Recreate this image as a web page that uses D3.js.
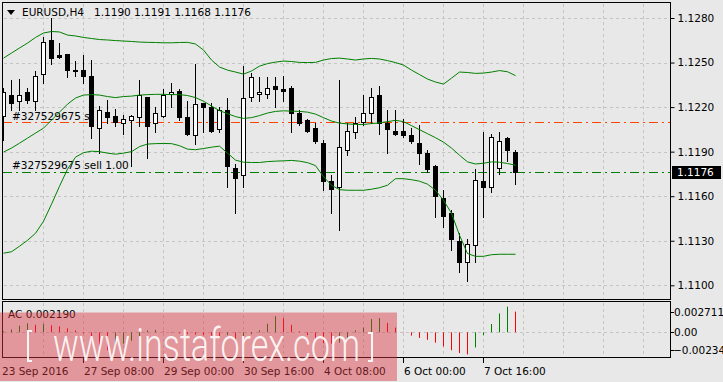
<!DOCTYPE html>
<html lang="en">
<head>
<meta charset="UTF-8">
<title>EURUSD,H4</title>
<script src="https://d3js.org/d3.v7.min.js"></script>
<style>
  body { margin: 0; background: #e8e8e8; }
  svg { display: block; font-family: "DejaVu Sans", Tahoma, sans-serif; }
  .lbl { font-size: 10.5px; fill: #000; }
  .grid { stroke: #c4c4c4; stroke-dasharray: 3,3; shape-rendering: crispEdges; }
</style>
</head>
<body>
<script>
// H4 candles, oldest first (23 Sep 2016 .. 10 Oct 2016)
const opens = [1.1214, 1.1228, 1.1224, 1.1230, 1.1224, 1.1242, 1.1265, 1.1255, 1.1256, 1.1245,
  1.1245, 1.1241, 1.1206, 1.1217, 1.1214, 1.1209, 1.1211, 1.1213, 1.1227, 1.1209,
  1.1214, 1.1229, 1.1231, 1.1213, 1.1201, 1.1223, 1.1220, 1.1205, 1.1218, 1.1179,
  1.1174, 1.1227, 1.1229, 1.1229, 1.1234, 1.1232, 1.1233, 1.1216, 1.1211, 1.1206,
  1.1196, 1.1170, 1.1166, 1.1191, 1.1203, 1.1210, 1.1216, 1.1228, 1.1209, 1.1204,
  1.1204, 1.1201, 1.1196, 1.1189, 1.1180, 1.1159, 1.1149, 1.1130, 1.1116, 1.1127,
  1.1170, 1.1166, 1.1179, 1.1199, 1.1190];
const highs = [1.1233, 1.1238, 1.1239, 1.1233, 1.1244, 1.1267, 1.1280, 1.1263, 1.1256, 1.1251,
  1.1255, 1.1252, 1.1221, 1.1225, 1.1219, 1.1215, 1.1215, 1.1238, 1.1227, 1.1220,
  1.1232, 1.1236, 1.1232, 1.1224, 1.1249, 1.1223, 1.1223, 1.1220, 1.1226, 1.1182,
  1.1248, 1.1243, 1.1240, 1.1240, 1.1240, 1.1241, 1.1234, 1.1218, 1.1212, 1.1209,
  1.1198, 1.1174, 1.1238, 1.1209, 1.1213, 1.1228, 1.1233, 1.1234, 1.1218, 1.1218,
  1.1212, 1.1206, 1.1208, 1.1191, 1.1181, 1.1164, 1.1151, 1.1135, 1.1131, 1.1178,
  1.1203, 1.1202, 1.1203, 1.1200, 1.1191];
const lows = [1.1198, 1.1218, 1.1218, 1.1223, 1.1218, 1.1236, 1.1249, 1.1253, 1.1240, 1.1241,
  1.1236, 1.1199, 1.1189, 1.1209, 1.1207, 1.1202, 1.1180, 1.1207, 1.1186, 1.1203,
  1.1213, 1.1220, 1.1211, 1.1201, 1.1195, 1.1203, 1.1203, 1.1203, 1.1166, 1.1149,
  1.1166, 1.1224, 1.1224, 1.1226, 1.1220, 1.1224, 1.1203, 1.1208, 1.1203, 1.1196,
  1.1164, 1.1149, 1.1137, 1.1188, 1.1199, 1.1208, 1.1209, 1.1202, 1.1189, 1.1201,
  1.1200, 1.1196, 1.1182, 1.1176, 1.1146, 1.1139, 1.1124, 1.1109, 1.1103, 1.1116,
  1.1146, 1.1163, 1.1175, 1.1184, 1.1168];
const closes = [1.1230, 1.1223, 1.1228, 1.1225, 1.1241, 1.1264, 1.1253, 1.1254, 1.1245, 1.1244,
  1.1241, 1.1207, 1.1218, 1.1213, 1.1210, 1.1212, 1.1214, 1.1228, 1.1207, 1.1216,
  1.1228, 1.1230, 1.1213, 1.1202, 1.1222, 1.1220, 1.1204, 1.1218, 1.1180, 1.1172,
  1.1226, 1.1240, 1.1230, 1.1233, 1.1232, 1.1231, 1.1216, 1.1209, 1.1204, 1.1197,
  1.1170, 1.1165, 1.1193, 1.1204, 1.1209, 1.1216, 1.1227, 1.1209, 1.1205, 1.1202,
  1.1201, 1.1197, 1.1189, 1.1178, 1.1160, 1.1147, 1.1131, 1.1116, 1.1128, 1.1171,
  1.1166, 1.1200, 1.1197, 1.1191, 1.1176];

// Bollinger bands as shown on the chart
const bbUpper = [1.12530, 1.12564, 1.12598, 1.12631, 1.12669, 1.12699, 1.12709, 1.12706, 1.12685, 1.12679,
  1.12669, 1.12662, 1.12655, 1.12652, 1.12648, 1.12645, 1.12642, 1.12638, 1.12636, 1.12635,
  1.12633, 1.12633, 1.12635, 1.12636, 1.12625, 1.12584, 1.12517, 1.12470, 1.12449, 1.12436,
  1.12422, 1.12443, 1.12476, 1.12493, 1.12503, 1.12510, 1.12507, 1.12501, 1.12500, 1.12501,
  1.12517, 1.12527, 1.12530, 1.12524, 1.12517, 1.12524, 1.12528, 1.12524, 1.12513, 1.12500,
  1.12483, 1.12449, 1.12419, 1.12389, 1.12369, 1.12355, 1.12395, 1.12436, 1.12433, 1.12427,
  1.12429, 1.12436, 1.12446, 1.12438, 1.12412];
const bbMiddle = [1.11897, 1.11924, 1.11957, 1.11991, 1.12025, 1.12058, 1.12112, 1.12166, 1.12220, 1.12261,
  1.12281, 1.12284, 1.12281, 1.12271, 1.12264, 1.12271, 1.12274, 1.12281, 1.12284, 1.12286,
  1.12286, 1.12284, 1.12284, 1.12278, 1.12264, 1.12240, 1.12207, 1.12176, 1.12156, 1.12136,
  1.12124, 1.12129, 1.12143, 1.12160, 1.12171, 1.12175, 1.12173, 1.12171, 1.12166, 1.12153,
  1.12129, 1.12106, 1.12092, 1.12087, 1.12083, 1.12083, 1.12089, 1.12094, 1.12102, 1.12111,
  1.12102, 1.12075, 1.12048, 1.12021, 1.11994, 1.11964, 1.11924, 1.11876, 1.11831, 1.11817,
  1.11822, 1.11831, 1.11829, 1.11820, 1.11809];
const bbLower = [1.11216, 1.11226, 1.11263, 1.11303, 1.11350, 1.11431, 1.11546, 1.11667, 1.11782, 1.11863,
  1.11893, 1.11903, 1.11900, 1.11890, 1.11883, 1.11890, 1.11900, 1.11934, 1.11951, 1.11954,
  1.11955, 1.11954, 1.11940, 1.11917, 1.11913, 1.11921, 1.11930, 1.11937, 1.11890, 1.11843,
  1.11829, 1.11827, 1.11827, 1.11833, 1.11836, 1.11838, 1.11841, 1.11836, 1.11826, 1.11806,
  1.11731, 1.11674, 1.11644, 1.11640, 1.11640, 1.11640, 1.11647, 1.11657, 1.11674, 1.11718,
  1.11718, 1.11711, 1.11701, 1.11681, 1.11640, 1.11573, 1.11485, 1.11337, 1.11214, 1.11195,
  1.11195, 1.11206, 1.11209, 1.11209, 1.11209];

// Accelerator oscillator
const acValues = [0.0001, 0.0003, 0.0007, 0.00095, 0.0008, 0.0009, 0.00075, 0.00063, 0.00042, 0.0002,
  -0.0001, -0.001, -0.0014, -0.0019, -0.0015, -0.0012, -0.0009, -0.0005, 0.0002, 0.00025,
  0.0001, -0.00005, -0.00012, -0.0002, -0.00025, -0.0003, -0.00035, -0.0004, -0.0003, -0.001,
  -0.0005, -0.0002, 0.0002, 0.0009, 0.0017, 0.0015, 0.0008, 0.0001, -0.0003, -0.0008,
  -0.00115, -0.0012, -0.0011, -0.0008, 0.0002, 0.0005, 0.0014, 0.0015, 0.001, 0.0005,
  0.00005, -0.00035, -0.0006, -0.0008, -0.0011, -0.0015, -0.0019, -0.0022, -0.00234, -0.0016,
  -0.0003, 0.00088, 0.002, 0.002711, 0.00219];

const timeLabels = ["23 Sep 2016", "27 Sep 08:00", "29 Sep 00:00", "30 Sep 16:00", "4 Oct 08:00", "6 Oct 00:00", "7 Oct 16:00"];
const timeLabelBars = [0, 10, 20, 30, 40, 50, 60];
const priceTicks = [1.1100, 1.1130, 1.1160, 1.1190, 1.1220, 1.1250, 1.1280];
const orderId = "#327529675";
const orderOpen = 1.1176;
const orderStop = 1.1210;

const W = 723, H = 382;
const L = 3, R = 670;
const mainTop = 3, mainBot = 300;
const acTop = 302, acBot = 358;

const svg = d3.select("body").append("svg")
  .attr("width", W).attr("height", H);

svg.append("rect").attr("width", W).attr("height", H).attr("fill", "#e8e8e8");

const x = d3.scaleLinear().domain([0, 64]).range([3, 515]);
const y = d3.scaleLinear().domain([1.1100, 1.1280]).range([285.3, 18]);
const acY = d3.scaleLinear().domain([d3.min(acValues), d3.max(acValues)]).range([354.4, 306.7]);

const px = v => Math.round(v) + 0.5;

svg.append("clipPath").attr("id", "mainClip")
  .append("rect").attr("x", L).attr("y", mainTop).attr("width", R - L).attr("height", mainBot - mainTop);
svg.append("clipPath").attr("id", "acClip")
  .append("rect").attr("x", L).attr("y", acTop).attr("width", R - L).attr("height", acBot - acTop);

// grid
const gridBars = d3.range(5, 85, 5);
const grid = svg.append("g");
grid.selectAll(".vm").data(gridBars).join("line").attr("class", "grid")
  .attr("x1", d => px(x(d))).attr("x2", d => px(x(d)))
  .attr("y1", mainTop + 1).attr("y2", mainBot);
grid.selectAll(".va").data(gridBars).join("line").attr("class", "grid")
  .attr("x1", d => px(x(d))).attr("x2", d => px(x(d)))
  .attr("y1", acTop + 1).attr("y2", acBot);
grid.selectAll(".h").data(priceTicks).join("line").attr("class", "grid")
  .attr("x1", L + 1).attr("x2", R)
  .attr("y1", d => px(y(d))).attr("y2", d => px(y(d)));
grid.append("line").attr("class", "grid")
  .attr("x1", L + 1).attr("x2", R)
  .attr("y1", px(acY(0))).attr("y2", px(acY(0)));

// order lines
const main = svg.append("g").attr("clip-path", "url(#mainClip)");
main.append("line")
  .attr("x1", L).attr("x2", R).attr("y1", px(y(orderStop))).attr("y2", px(y(orderStop)))
  .attr("stroke", "#ff4500").attr("stroke-dasharray", "9,4,2,4");
main.append("line")
  .attr("x1", L).attr("x2", R).attr("y1", px(y(orderOpen))).attr("y2", px(y(orderOpen)))
  .attr("stroke", "#008000").attr("stroke-dasharray", "9,4,2,4");
main.append("text").attr("class", "lbl")
  .attr("x", 12).attr("y", y(orderStop) - 2).text(orderId + " sl");
main.append("text").attr("class", "lbl")
  .attr("x", 12).attr("y", y(orderOpen) - 3).text(orderId + " sell 1.00");

// candles
const bars = d3.range(opens.length).map(i => ({
  i, o: opens[i], h: highs[i], l: lows[i], c: closes[i]
}));
const candle = main.append("g").selectAll("g").data(bars).join("g");
candle.append("line")
  .attr("x1", d => x(d.i) + 0.5).attr("x2", d => x(d.i) + 0.5)
  .attr("y1", d => Math.round(y(d.h))).attr("y2", d => Math.round(y(d.l)) + 1)
  .attr("stroke", "#000");
candle.append("rect")
  .attr("x", d => x(d.i) - 1.5)
  .attr("y", d => Math.round(y(Math.max(d.o, d.c))) + 0.5)
  .attr("width", 4)
  .attr("height", d => Math.max(0, Math.round(y(Math.min(d.o, d.c))) - Math.round(y(Math.max(d.o, d.c)))))
  .attr("fill", d => d.c > d.o ? "#fff" : "#000")
  .attr("stroke", "#000");

// bollinger bands
const band = d3.line().x((d, i) => x(i) + 0.5).y(d => y(d));
[bbUpper, bbMiddle, bbLower].forEach(b => {
  main.append("path").attr("d", band(b))
    .attr("fill", "none").attr("stroke", "#008000").attr("stroke-width", 1);
});

// header
const last = opens.length - 1;
svg.append("path").attr("d", "M7,10 L15,10 L11,15 Z").attr("fill", "#000");
svg.append("text").attr("class", "lbl").attr("x", 22).attr("y", 16).text("EURUSD,H4");
svg.append("text").attr("class", "lbl").attr("x", 94).attr("y", 16)
  .text([opens[last], highs[last], lows[last], closes[last]].map(d3.format(".4f")).join(" "));

// price axis
const yAxis = svg.append("g").attr("transform", `translate(${R + 0.5},0)`)
  .call(d3.axisRight(y).tickValues(priceTicks).tickSize(4).tickPadding(3).tickFormat(d3.format(".4f")));
yAxis.select(".domain").remove();
yAxis.selectAll("line").attr("stroke", "#000");
yAxis.selectAll("text").attr("class", "lbl").attr("fill", "#000");
yAxis.attr("font-family", null).attr("font-size", null);

const lastY = Math.round(y(closes[last]));
svg.append("rect").attr("x", 672).attr("y", lastY - 6).attr("width", 49).attr("height", 13).attr("fill", "#000");
svg.append("text").attr("class", "lbl").attr("x", 677).attr("y", lastY + 4)
  .style("fill", "#fff").text(d3.format(".4f")(closes[last]));

// AC histogram
const ac = svg.append("g").attr("clip-path", "url(#acClip)");
ac.selectAll("line").data(acValues).join("line")
  .attr("x1", (d, i) => x(i) + 0.5).attr("x2", (d, i) => x(i) + 0.5)
  .attr("y1", acY(0)).attr("y2", d => acY(d))
  .attr("stroke", (d, i) => i === 0 || d > acValues[i - 1] ? "#008000" : "#ff0000");
svg.append("text").attr("class", "lbl").attr("x", 8).attr("y", 318)
  .text("AC " + d3.format(".6f")(acValues[last]));

const acLabels = [
  { v: d3.max(acValues), y: acTop + 10, t: d3.format(".6f")(d3.max(acValues)) },
  { v: 0, y: acY(0), t: "0.00" },
  { v: d3.min(acValues), y: acBot - 8, t: d3.format(".5f")(d3.min(acValues)) }
];
acLabels.forEach(a => {
  svg.append("line").attr("x1", R).attr("x2", R + 4).attr("y1", px(a.y)).attr("y2", px(a.y)).attr("stroke", "#000");
  svg.append("text").attr("class", "lbl").attr("x", a.v < 0 ? 673 : 674).attr("y", a.y + 4).text(a.t);
});

// borders
svg.append("rect").attr("x", L - 0.5).attr("y", mainTop - 0.5).attr("width", R - L + 1).attr("height", mainBot - mainTop)
  .attr("fill", "none").attr("stroke", "#000");
svg.append("rect").attr("x", L - 0.5).attr("y", acTop - 0.5).attr("width", R - L + 1).attr("height", acBot - acTop)
  .attr("fill", "none").attr("stroke", "#000");

// time axis
timeLabelBars.forEach((b, k) => {
  if (b > 0) {
    svg.append("line").attr("x1", px(x(b))).attr("x2", px(x(b)))
      .attr("y1", acBot).attr("y2", acBot + 5).attr("stroke", "#000");
  }
  svg.append("text").attr("class", "lbl").attr("x", b > 0 ? x(b) + 1 : 2).attr("y", 375).text(timeLabels[k]);
});

// watermark
const wm = svg.append("g");
wm.append("rect").attr("x", 0).attr("y", 312.5).attr("width", 397).attr("height", 68.5)
  .attr("fill", "#d9363e").attr("fill-opacity", 0.45);
wm.append("path").attr("d", "M32,331 L28,331 L28,361 L32,361 M368,333 L372,333 L372,361 L368,361")
  .attr("fill", "none").attr("stroke", "#fff").attr("stroke-opacity", 0.9).attr("stroke-width", 2);
wm.append("text").attr("x", 53).attr("y", 361)
  .attr("font-family", "Roboto, 'Open Sans', sans-serif").attr("font-weight", 300).attr("font-size", 46)
  .attr("textLength", 307).attr("lengthAdjust", "spacingAndGlyphs")
  .attr("fill", "#fff").attr("fill-opacity", 0.9).text("www.instaforex.com");
</script>
</body>
</html>
